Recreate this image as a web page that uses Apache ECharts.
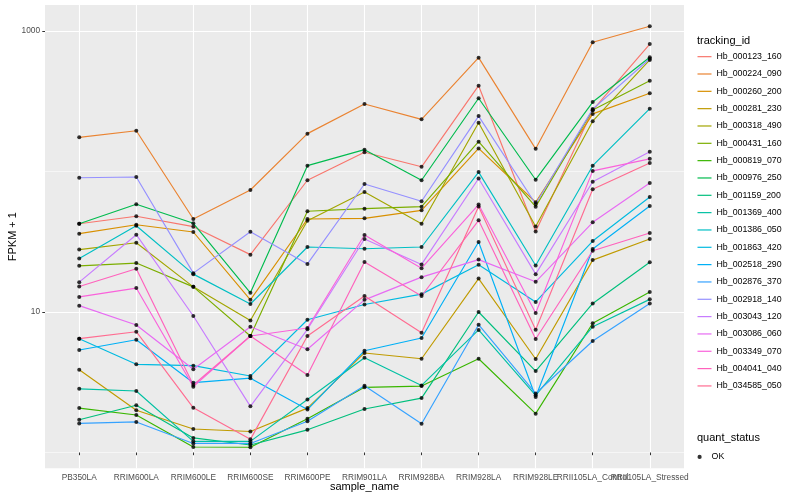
<!DOCTYPE html>
<html><head><meta charset="utf-8">
<script src="https://cdn.jsdelivr.net/npm/echarts@6/dist/echarts.min.js"></script>
<style>html,body{margin:0;padding:0;background:#fff}#c{width:800px;height:500px}</style>
</head><body><div id="c"></div>
<script>
// ---- data (FPKM + 1) ----
const categories = ['PB350LA','RRIM600LA','RRIM600LE','RRIM600SE','RRIM600PE','RRIM901LA','RRIM928BA','RRIM928LA','RRIM928LE','RRII105LA_Control','RRII105LA_Stressed'];
const yMajorTicks = [10, 1000];
const yMinorTicks = [1, 100];

const hb_000123_160 = [42.5, 48.0, 40.5, 25.6, 86.6, 137, 108, 408, 37.4, 273, 808];
const hb_000224_090 = [175, 195, 45.9, 73.8, 186, 302, 235, 646, 145, 831, 1080];
const hb_000260_200 = [36.1, 41.8, 37.1, 12.2, 45.9, 46.4, 52.9, 146, 60.4, 257, 360];
const hb_000281_230 = [3.88, 2.00, 1.47, 1.41, 2.07, 5.11, 4.65, 17.3, 4.63, 23.4, 33.1];
const hb_000318_490 = [27.8, 31.1, 15.1, 8.70, 44.6, 71.5, 42.5, 222, 40.6, 228, 622];
const hb_000431_160 = [21.3, 22.3, 15.1, 6.75, 52.1, 54.4, 56.2, 163, 56.2, 274, 443];
const hb_000819_070 = [2.07, 1.85, 1.094, 1.089, 1.74, 2.91, 2.97, 4.65, 1.89, 8.31, 13.9];
const hb_000976_250 = [42.5, 58.4, 42.8, 13.7, 110, 143, 86.6, 332, 87.4, 312, 650];
const hb_001159_200 = [1.71, 2.17, 1.27, 1.13, 1.45, 2.04, 2.44, 10.0, 3.80, 11.5, 22.6];
const hb_001369_400 = [2.84, 2.74, 1.20, 1.20, 2.38, 4.73, 3.00, 7.45, 2.55, 7.86, 12.3];
const hb_001386_050 = [24.0, 41.1, 18.6, 11.4, 29.0, 28.2, 29.0, 99, 21.4, 110, 280];
const hb_001863_420 = [6.46, 4.24, 4.15, 3.50, 8.81, 11.3, 13.4, 21.7, 11.8, 32.0, 65.8];
const hb_002518_290 = [5.36, 6.35, 3.14, 3.38, 2.02, 5.30, 6.53, 31.5, 2.48, 28.1, 56.8];
const hb_002876_370 = [1.61, 1.65, 1.16, 1.16, 1.67, 2.99, 1.60, 8.12, 2.63, 6.22, 11.5];
const hb_002918_140 = [90.3, 91.4, 18.9, 37.3, 22.0, 81.5, 61.4, 248, 58.7, 278, 635];
const hb_003043_120 = [16.3, 35.5, 9.37, 2.13, 7.53, 33.1, 21.8, 89.2, 18.6, 84.6, 138];
const hb_003086_060 = [11.1, 8.08, 3.91, 7.85, 5.43, 12.2, 17.7, 23.6, 16.4, 43.5, 82.8];
const hb_003349_070 = [12.8, 14.8, 2.94, 6.75, 7.69, 35.3, 20.5, 58.2, 9.84, 101, 123];
const hb_004041_040 = [15.2, 20.3, 3.02, 6.75, 3.56, 22.7, 13.0, 44.9, 6.43, 27.3, 36.5];
const hb_034585_050 = [6.46, 7.24, 2.08, 1.24, 6.75, 13.0, 7.12, 56.3, 7.48, 74.7, 115];

const seriesDefs = [
  ['Hb_000123_160', hb_000123_160], ['Hb_000224_090', hb_000224_090], ['Hb_000260_200', hb_000260_200],
  ['Hb_000281_230', hb_000281_230], ['Hb_000318_490', hb_000318_490], ['Hb_000431_160', hb_000431_160],
  ['Hb_000819_070', hb_000819_070], ['Hb_000976_250', hb_000976_250], ['Hb_001159_200', hb_001159_200],
  ['Hb_001369_400', hb_001369_400], ['Hb_001386_050', hb_001386_050], ['Hb_001863_420', hb_001863_420],
  ['Hb_002518_290', hb_002518_290], ['Hb_002876_370', hb_002876_370], ['Hb_002918_140', hb_002918_140],
  ['Hb_003043_120', hb_003043_120], ['Hb_003086_060', hb_003086_060], ['Hb_003349_070', hb_003349_070],
  ['Hb_004041_040', hb_004041_040], ['Hb_034585_050', hb_034585_050]
];
const colors = ['#F8766D','#EA8331','#D89000','#C09B00','#A3A500','#7CAE00','#39B600','#00BB4E','#00BF7D','#00C1A3',
                '#00BFC4','#00BAE0','#00B0F6','#35A2FF','#9590FF','#C77CFF','#E76BF3','#FA62DB','#FF62BC','#FF6C91'];

// ---- build ----
const FONT = "'Liberation Sans', Arial, Helvetica, sans-serif";
const catIdx = categories.map((c, i) => i + 1);
const evenIdx = catIdx.filter(i => i % 2 === 0);
const oddIdx = catIdx.filter(i => i % 2 === 1);
const L = v => Math.log10(v);
const yMin = -0.1125, yMax = 3.185;
const xLabelStyle = { formatter: v => categories[Math.round(v) - 1], fontSize: 8.3,
  color: '#4D4D4D', margin: 5, fontFamily: FONT, showMinLabel: true, showMaxLabel: true, hideOverlap: false };

const lineSeries = seriesDefs.map(([name, vals], k) => ({
  name, type: 'line', xAxisIndex: 0, yAxisIndex: 0,
  data: vals.map((v, i) => [i + 1, L(v)]),
  symbol: 'none', showSymbol: false,
  color: colors[k],
  lineStyle: { color: colors[k], width: 1.15 },
  itemStyle: { color: colors[k] },
  silent: true, z: 2
}));
const pointData = [];
seriesDefs.forEach(([n, vals]) => vals.forEach((v, i) => pointData.push([i + 1, L(v)])));

const chart = echarts.init(document.getElementById('c'), null, { renderer: 'canvas' });
chart.setOption({
  animation: false,
  backgroundColor: '#FFFFFF',
  textStyle: { fontFamily: FONT },
  title: [
    { text: 'tracking_id', left: 697, top: 34, padding: 0,
      textStyle: { fontSize: 11, fontWeight: 'normal', color: '#000', lineHeight: 13, fontFamily: FONT } },
    { text: 'quant_status', left: 697, top: 431, padding: 0,
      textStyle: { fontSize: 11, fontWeight: 'normal', color: '#000', lineHeight: 13, fontFamily: FONT } }
  ],
  legend: [
    { data: seriesDefs.map(d => d[0]), orient: 'vertical', left: 697.5, top: 48, padding: 0, itemGap: 0,
      itemWidth: 14, itemHeight: 1.2, icon: 'rect', selectedMode: false,
      textStyle: { fontSize: 8.8, color: '#000', lineHeight: 17.33, fontFamily: FONT } },
    { data: ['OK'], orient: 'vertical', left: 697.5, top: 448.3, padding: 0, itemGap: 0,
      itemWidth: 14, itemHeight: 4.2, selectedMode: false,
      textStyle: { fontSize: 8.8, color: '#000', lineHeight: 17.33, fontFamily: FONT } }
  ],
  grid: { left: 45, top: 5, width: 639, height: 463.3, show: true, backgroundColor: '#EBEBEB', borderWidth: 0,
    containLabel: false, outerBoundsMode: 'none' },
  xAxis: [
    {
      type: 'value', min: 0.4, max: 11.6, position: 'bottom',
      name: 'sample_name', nameLocation: 'middle', nameGap: 13.5, nameMoveOverlap: false,
      nameTextStyle: { fontSize: 11, color: '#000', fontFamily: FONT },
      axisLine: { show: false },
      axisTick: { show: true, length: 2.7, customValues: catIdx, lineStyle: { color: '#333333', width: 1 } },
      axisLabel: Object.assign({ customValues: evenIdx }, xLabelStyle),
      splitLine: { show: true, lineStyle: { color: '#FFFFFF', width: 1.1 } }
    },
    {
      type: 'value', min: 0.4, max: 11.6, position: 'bottom', offset: 0,
      axisLine: { show: false },
      axisTick: { show: false, customValues: oddIdx },
      axisLabel: Object.assign({ customValues: oddIdx }, xLabelStyle),
      splitLine: { show: false }
    }
  ],
  yAxis: [
    {
      type: 'value', min: yMin, max: yMax,
      name: 'FPKM + 1', nameLocation: 'middle', nameGap: 27, nameMoveOverlap: false,
      nameTextStyle: { fontSize: 11, color: '#000', fontFamily: FONT },
      axisLine: { show: false },
      axisTick: { show: true, length: 2.7, customValues: yMajorTicks.map(L), lineStyle: { color: '#333333', width: 1 } },
      axisLabel: { customValues: yMajorTicks.map(L), formatter: v => String(Math.round(Math.pow(10, v))),
        fontSize: 8.3, color: '#4D4D4D', margin: 5, fontFamily: FONT, showMinLabel: true, showMaxLabel: true },
      splitLine: { show: true, lineStyle: { color: '#FFFFFF', width: 1.1 } }
    },
    {
      type: 'value', min: yMin, max: yMax, position: 'left',
      axisLine: { show: false },
      axisTick: { show: false, customValues: yMinorTicks.map(L) },
      axisLabel: { show: false, customValues: yMinorTicks.map(L) },
      splitLine: { show: true, lineStyle: { color: '#FFFFFF', width: 0.55 } }
    }
  ],
  series: lineSeries.concat([{
    name: 'OK', type: 'scatter', xAxisIndex: 0, yAxisIndex: 0, data: pointData,
    symbol: 'circle', symbolSize: 4, itemStyle: { color: '#000000' }, silent: true, z: 3
  }])
});
</script></body></html>
